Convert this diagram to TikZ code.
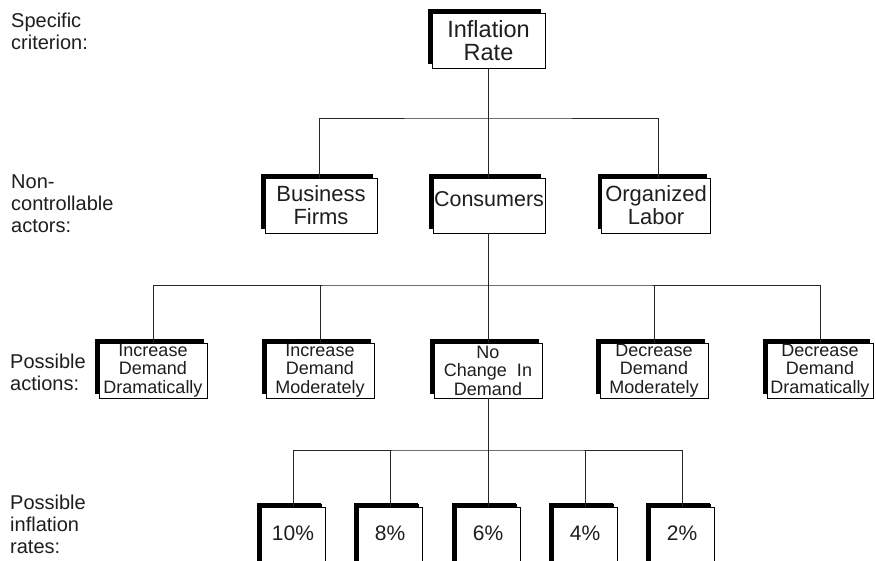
\documentclass[tikz,border=0pt]{standalone}
\usepackage{fontspec}
\setmainfont{Liberation Sans}
\usetikzlibrary{shadows}
\definecolor{ink}{HTML}{1E1E1E}
\begin{document}
\begin{tikzpicture}[x=1pt,y=-1pt,
  every node/.style={text=ink},
  boxbase/.style={draw=black, line width=0.8pt, fill=white, inner sep=0pt,
    align=center,
    drop shadow={shadow xshift=-4pt, shadow yshift=4pt, fill=black, opacity=1}},
  topbox/.style={boxbase, minimum width=112pt, minimum height=55pt,
    font=\fontsize{22}{23}\selectfont},
  actbox/.style={boxbase, minimum width=108pt, minimum height=55pt,
    font=\fontsize{18}{18.5}\selectfont,
    drop shadow={shadow xshift=-3.5pt, shadow yshift=3.5pt, fill=black, opacity=1}},
  ratebox/.style={boxbase, minimum width=64pt, minimum height=60pt,
    text height=15pt, text depth=9pt,
    font=\fontsize{21}{23}\selectfont,
    drop shadow={shadow xshift=-3.5pt, shadow yshift=3.5pt, fill=black, opacity=1}},
  rowlabel/.style={anchor=north west, inner sep=0pt, align=left,
    font=\fontsize{20}{22}\selectfont},
  link/.style={draw=black!85, line width=0.8pt}
]
\clip (0,0) rectangle (876,561);
\fill[white] (0,0) rectangle (876,561);

% row labels
\node[rowlabel] (lab1) at (11,13)  {Specific\\criterion:};
\node[rowlabel] (lab2) at (11,175) {Non-\\controllable\\actors:};
\node[rowlabel] (lab3) at (10,354) {Possible\\actions:};
\node[rowlabel] (lab4) at (10,495) {Possible\\inflation\\rates:};

% bus lines
\coordinate (bus1) at (488,118);
\coordinate (bus2) at (488,285);
\coordinate (bus3) at (488,450);

% criterion
\node[topbox, minimum width=113pt, font=\fontsize{23.5}{23}\selectfont]
  (crit) at (488.5,40.5) {Inflation\\Rate};

% actors
\node[topbox] (bf) at (321,205.5) {Business\\Firms};
\node[topbox, font=\fontsize{21.5}{23}\selectfont,
  text height=15.5pt, text depth=12.5pt] (co) at (489,205.5) {Consumers};
\node[topbox, minimum width=109pt] (ol) at (656,205.5) {Organized\\Labor};

% actions
\node[actbox] (a1) at (153,370.5) {Increase\\Demand\\Dramatically};
\node[actbox] (a2) at (320,370.5) {Increase\\Demand\\Moderately};
\node[actbox] (a3) at (488,370.5) {No\\Change\ \ In\\Demand};
\node[actbox] (a4) at (654,370.5) {Decrease\\Demand\\Moderately};
\node[actbox, minimum width=106pt] (a5) at (820,370.5) {Decrease\\Demand\\Dramatically};

% inflation rates
\node[ratebox] (r1) at (293,537) {10\%};
\node[ratebox] (r2) at (390,537) {8\%};
\node[ratebox] (r3) at (488,537) {6\%};
\node[ratebox] (r4) at (585,537) {4\%};
\node[ratebox] (r5) at (682,537) {2\%};

% criterion -> actors
\draw[link] (crit.south -| bus1) -- (bus1);
\draw[link] (bf.north -| 319,0) |- (bus1) -| (ol.north -| 658,0);
\draw[link] (co.north -| bus1) -- (bus1);

% actors -> actions
\draw[link] (bf.south -| 319,0) -- (bf.south -| 319,0 |- bus2);
\draw[link] (co.south -| bus2) -- (bus2);
\draw[link] (ol.south -| 658,0) -- (ol.south -| 658,0 |- bus2);
\draw[link] (a1.north) |- (bus2) -| (a5.north);
\draw[link] (a2.north) -- (a2.north |- bus2);
\draw[link] (a3.north) -- (bus2);
\draw[link] (a4.north) -- (a4.north |- bus2);

% no change -> rates
\draw[link] (a3.south) -- (bus3);
\draw[link] (r1.north) |- (bus3) -| (r5.north);
\draw[link] (r2.north) -- (r2.north |- bus3);
\draw[link] (r3.north) -- (bus3);
\draw[link] (r4.north) -- (r4.north |- bus3);
\end{tikzpicture}
\end{document}
